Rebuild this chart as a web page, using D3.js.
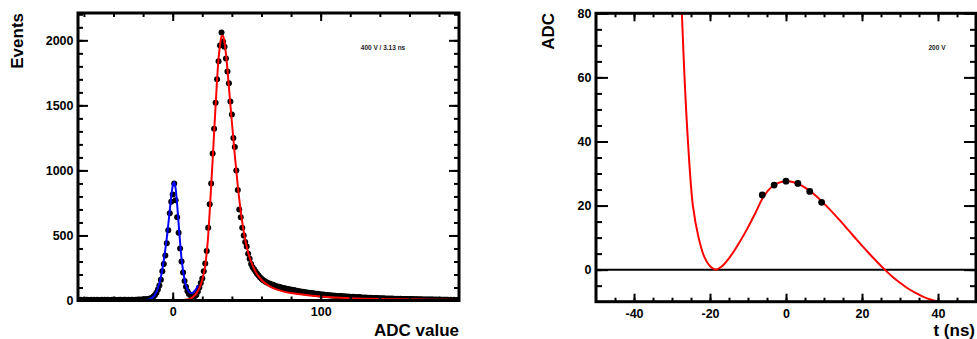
<!DOCTYPE html>
<html>
<head>
<meta charset="utf-8">
<script src="https://cdn.jsdelivr.net/npm/d3@7"></script>
<style>
  body { margin: 0; background: #fff; }
  svg { display: block; font-family: "Liberation Sans", Arial, sans-serif; font-weight: bold; }
</style>
</head>
<body>
<svg id="chart" width="977" height="339"></svg>
<script>
// ---- left: ADC spectrum, one count per 1-ADC bin starting at adcFirstBin
const adcFirstBin = -64;
const eventCounts = [
  4, 3, 5, 2, 4, 3, 6, 4, 3, 5,            // -64
  4, 6, 3, 5, 4, 2, 5, 4, 6, 3,            // -54
  5, 4, 3, 6, 4, 5, 3, 4, 6, 5,            // -44
  4, 5, 6, 4, 5, 3, 6, 5, 4, 6,            // -34
  5, 7, 6, 8, 7, 9, 9, 10, 13, 16,         // -24
  22, 30, 42, 60, 85, 115, 160, 225, 280, 345,      // -14
  440, 540, 670, 760, 815, 900, 770, 640, 520, 400, // -4
  300, 215, 150, 105, 72, 50, 40, 33, 30, 34,       // 6
  45, 70, 100, 135, 170, 225, 285, 380, 560, 740,   // 16
  900, 1130, 1320, 1520, 1700, 1840, 1960, 2060, 1990, 1950, // 26
  1860, 1760, 1670, 1530, 1430, 1250, 1180, 1000, 850, 700,  // 36
  640, 560, 500, 450, 415, 360, 320, 280, 255, 240, // 46
  222, 205, 192, 178, 168, 158, 150, 142, 136, 130, // 56
  128, 119, 121, 112, 111, 104, 105, 99, 98, 93,    // 66
  94, 88, 89, 83, 84, 78, 80, 74, 75, 70,  // 76
  72, 66, 67, 62, 64, 59, 60, 56, 57, 53,  // 86
  54, 50, 51, 47, 48, 44, 46, 42, 43, 40,  // 96
  41, 38, 39, 36, 37, 34, 35, 33, 34, 31,  // 106
  32, 29, 30, 28, 29, 26, 28, 25, 27, 24,  // 116
  26, 23, 24, 22, 23, 21, 22, 20, 21, 19,  // 126
  20, 18, 19, 17, 18, 16, 17, 15, 16, 14,  // 136
  16, 14, 15, 13, 14, 12, 14, 12, 13, 11,  // 146
  12, 11, 12, 10, 11, 10, 11, 9, 10, 9,    // 156
  9, 8, 9, 8, 8, 7, 8, 7, 8, 7,            // 166
  7, 6, 7, 6, 6, 5, 6, 5, 6, 5,            // 176
  5, 4, 5, 4, 5, 4, 4, 4                   // 186
];

// pedestal fit (blue)
const pedFitAdc    = [-18, -16, -14, -12, -10, -8, -6, -4, -2, -1, 0, 1, 2, 3, 4, 6, 8, 10, 11, 12, 13, 14, 15, 16, 17];
const pedFitEvents = [3, 8, 20, 45, 95, 180, 310, 480, 690, 800, 880, 910, 860, 740, 590, 320, 160, 85, 66, 58, 58, 64, 76, 93, 115];

// signal fit (red)
const sigFitAdc    = [-64, -40, -20, -10, 0, 6, 10, 12, 14, 16, 18, 20, 22, 24, 25, 26, 27, 28, 30, 31, 32, 33, 34, 35, 36, 38, 40, 42, 44, 46, 48, 50, 52, 54, 56, 58, 60, 65, 70, 75, 81, 90, 100, 110, 125, 150, 175, 193.5];
const sigFitEvents = [0, 0, 0.5, 1, 2, 4, 8, 15, 30, 55, 95, 160, 270, 500, 680, 880, 1080, 1290, 1700, 1860, 1965, 2030, 2035, 1985, 1895, 1640, 1370, 1115, 880, 685, 530, 415, 330, 270, 222, 185, 158, 112, 85, 68, 55, 42, 31, 23, 15, 9, 6, 4];

// ---- right: pulse samples and fit
const pulseTime = [-6.25, -3.125, 0, 3.125, 6.25, 9.375];
const pulseAdc  = [23.3, 26.4, 27.6, 26.9, 24.4, 21.0];
const pulseFitTime = [-27.4, -26.7, -25.8, -24.5, -23, -21.5, -20, -18.5, -17, -15.5, -14, -12, -10, -8, -6, -4, -2, 0, 2, 4, 6, 8, 10, 12, 14, 16, 18, 20, 22, 24, 26, 28, 30, 32, 34, 36, 38, 40.1];
const pulseFitAdc  = [80, 60, 40, 20, 10, 4, 1.1, 0, 0.9, 2.8, 5.2, 9.0, 13.2, 17.8, 22.6, 25.6, 27.1, 27.6, 27.3, 26.3, 24.8, 22.9, 20.6, 18.2, 15.6, 12.9, 10.2, 7.5, 4.9, 2.4, 0, -2.2, -4.1, -5.8, -7.2, -8.4, -9.3, -10];

// ticks / labels
const leftXTicks = [0, 100];
const leftYTicks = [0, 500, 1000, 1500, 2000];
const rightXTicks = [-40, -20, 0, 20, 40];
const rightYTicks = [0, 20, 40, 60, 80];
const leftNote = '400 V / 3.13 ns';
const rightNote = '200 V';

const svg = d3.select('#chart');

const left = {
  x: d3.scaleLinear().domain([-64, 193.5]).range([78, 459]),
  y: d3.scaleLinear().domain([0, 2210]).range([300.5, 13])
};
const right = {
  x: d3.scaleLinear().domain([-50, 50]).range([596, 976]),
  y: d3.scaleLinear().domain([-10, 80]).range([301.7, 13.3])
};

function clip(p, id) {
  const [x0, x1] = p.x.range(), [y1, y0] = p.y.range();
  svg.append('clipPath').attr('id', id).append('rect')
    .attr('x', x0).attr('y', y0).attr('width', x1 - x0).attr('height', y1 - y0);
  return svg.append('g').attr('clip-path', `url(#${id})`);
}

const plain = d => String(d);

function axes(p, t) {
  const [x0, x1] = p.x.range(), [y1, y0] = p.y.range();
  const style = s => {
    s.select('.domain').remove();
    s.attr('font-family', null).attr('font-size', 12.5).attr('font-weight', 'bold');
    s.selectAll('line').attr('stroke-width', 2);
  };
  const put = (gen, dx, dy) => svg.append('g')
    .attr('transform', `translate(${dx},${dy})`).call(gen).call(style);

  put(d3.axisBottom(p.x).tickValues(t.xMajor).tickSize(-t.xMaj).tickPadding(7).tickFormat(plain), 0, y1);
  put(d3.axisBottom(p.x).tickValues(t.xMinor).tickSize(-t.xMin).tickFormat(''), 0, y1);
  put(d3.axisTop(p.x).tickValues(t.xMajor).tickSize(-t.xMaj).tickFormat(''), 0, y0);
  put(d3.axisTop(p.x).tickValues(t.xMinor).tickSize(-t.xMin).tickFormat(''), 0, y0);
  put(d3.axisLeft(p.y).tickValues(t.yMajor).tickSize(-t.yMaj).tickPadding(4.5).tickFormat(plain), x0, 0);
  put(d3.axisLeft(p.y).tickValues(t.yMinor).tickSize(-t.yMin).tickFormat(''), x0, 0);
  put(d3.axisRight(p.y).tickValues(t.yMajor).tickSize(-t.yMaj).tickFormat(''), x1, 0);
  put(d3.axisRight(p.y).tickValues(t.yMinor).tickSize(-t.yMin).tickFormat(''), x1, 0);
}

function frame(p) {
  const [x0, x1] = p.x.range(), [y1, y0] = p.y.range();
  svg.append('rect').attr('x', x0).attr('y', y0)
    .attr('width', x1 - x0).attr('height', y1 - y0)
    .attr('fill', 'none').attr('stroke', '#000').attr('stroke-width', 3);
}

function fitLine(g, p, xs, ys, color, curve) {
  const line = d3.line().x(d => p.x(d[0])).y(d => p.y(d[1])).curve(curve);
  g.append('path').datum(d3.zip(xs, ys)).attr('d', line)
    .attr('fill', 'none').attr('stroke', color).attr('stroke-width', 2);
}

// ---------- left panel
const lg = clip(left, 'clipL');
lg.selectAll('circle').data(eventCounts).join('circle')
  .attr('cx', (d, i) => left.x(adcFirstBin + i))
  .attr('cy', d => left.y(d))
  .attr('r', 3).attr('fill', '#000');
fitLine(lg, left, pedFitAdc, pedFitEvents, '#0000ff', d3.curveMonotoneX);
fitLine(lg, left, sigFitAdc, sigFitEvents, '#ff0000', d3.curveMonotoneX);

axes(left, {
  xMajor: leftXTicks, xMinor: d3.range(-60, 194, 20), xMaj: 8, xMin: 4,
  yMajor: leftYTicks, yMinor: d3.range(0, 2210, 100), yMaj: 10, yMin: 5
});
frame(left);

svg.append('text').attr('transform', 'translate(23,13) rotate(-90)')
  .attr('text-anchor', 'end').attr('font-size', 17).text('Events');
svg.append('text').attr('x', 459).attr('y', 336)
  .attr('text-anchor', 'end').attr('font-size', 17).text('ADC value');
svg.append('text').attr('x', 383).attr('y', 50)
  .attr('text-anchor', 'middle').attr('font-size', 6.5).attr('fill', '#222').text(leftNote);

// ---------- right panel
const rg = clip(right, 'clipR');
rg.append('line')
  .attr('x1', right.x(-50)).attr('x2', right.x(50))
  .attr('y1', right.y(0)).attr('y2', right.y(0))
  .attr('stroke', '#000').attr('stroke-width', 2);
fitLine(rg, right, pulseFitTime, pulseFitAdc, '#ff0000', d3.curveCatmullRom.alpha(0.5));
rg.selectAll('circle').data(d3.zip(pulseTime, pulseAdc)).join('circle')
  .attr('cx', d => right.x(d[0])).attr('cy', d => right.y(d[1]))
  .attr('r', 3.4).attr('fill', '#000');

axes(right, {
  xMajor: rightXTicks, xMinor: d3.range(-45, 50, 5), xMaj: 8, xMin: 4,
  yMajor: rightYTicks, yMinor: d3.range(-5, 80, 5), yMaj: 12, yMin: 6
});
frame(right);

svg.append('text').attr('transform', 'translate(554,13) rotate(-90)')
  .attr('text-anchor', 'end').attr('font-size', 17).text('ADC');
svg.append('text').attr('x', 975).attr('y', 336)
  .attr('text-anchor', 'end').attr('font-size', 17).text('t (ns)');
svg.append('text').attr('x', 937).attr('y', 50)
  .attr('text-anchor', 'middle').attr('font-size', 6.5).attr('fill', '#222').text(rightNote);
</script>
</body>
</html>
